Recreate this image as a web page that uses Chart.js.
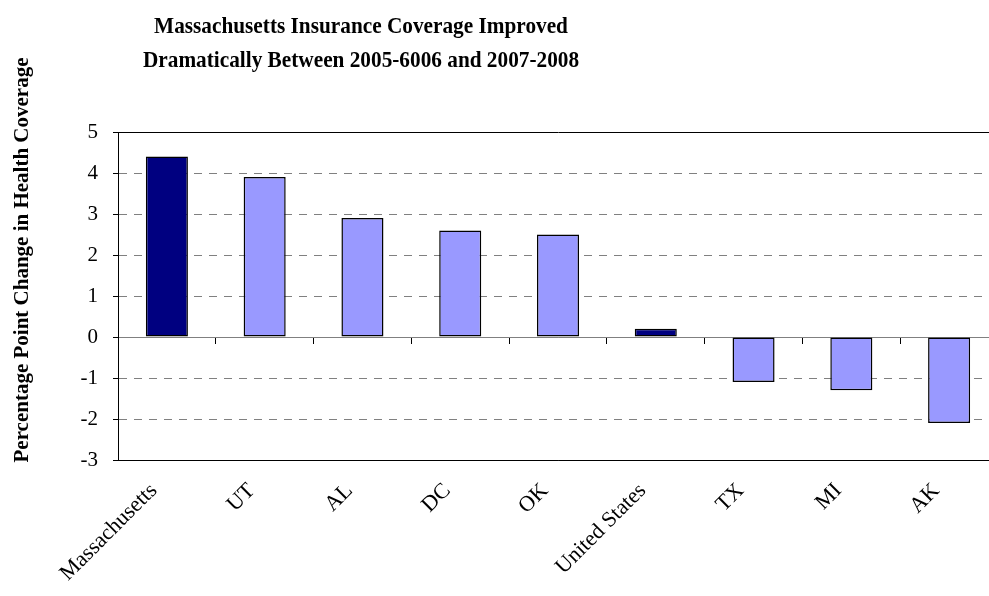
<!DOCTYPE html>
<html>
<head>
<meta charset="utf-8">
<script src="https://cdn.jsdelivr.net/npm/chart.js@4/dist/chart.umd.min.js"></script>
<style>
  html, body { margin: 0; padding: 0; background: #fff; overflow: hidden; }
  #wrap { width: 1000px; height: 596px; }
</style>
</head>
<body>
<div id="wrap"><canvas id="coverage-chart" width="1000" height="596"></canvas></div>
<script>
// Chart data
const states = ['Massachusetts', 'UT', 'AL', 'DC', 'OK', 'United States', 'TX', 'MI', 'AK'];
const pointChange = [4.4, 3.9, 2.9, 2.6, 2.5, 0.2, -1.1, -1.3, -2.1];
const highlighted = ['Massachusetts', 'United States'];
const yMin = -3;
const yMax = 5;

const titleLines = [
  'Massachusetts Insurance Coverage Improved',
  'Dramatically Between 2005-6006 and 2007-2008'
];
const yTitle = 'Percentage Point Change in Health Coverage';

const serif = '"Liberation Serif", "Times New Roman", serif';

// Titles are drawn by hand because they are not centred on the plot
const titlePlugin = {
  id: 'titles',
  afterDraw(chart) {
    const ctx = chart.ctx;
    ctx.save();
    ctx.fillStyle = '#000';
    ctx.textAlign = 'center';
    ctx.textBaseline = 'alphabetic';
    ctx.font = 'bold 23px ' + serif;
    // the original face is narrower, squeeze it a bit
    ctx.translate(361, 0);
    ctx.scale(0.925, 1);
    ctx.fillText(titleLines[0], 0, 33);
    ctx.fillText(titleLines[1], 0, 67);
    ctx.restore();

    ctx.save();
    ctx.fillStyle = '#000';
    ctx.textAlign = 'center';
    ctx.translate(23, 260);
    ctx.rotate(-Math.PI / 2);
    ctx.textBaseline = 'middle';
    ctx.font = 'bold 21px ' + serif;
    ctx.fillText(yTitle, 0, 0);
    ctx.restore();
  }
};

function isEdge(value) {
  return value === yMin || value === yMax || value === 0;
}

const ctx = document.getElementById('coverage-chart').getContext('2d');
new Chart(ctx, {
  type: 'bar',
  data: {
    labels: states,
    datasets: [{
      data: pointChange,
      backgroundColor: states.map(s => highlighted.includes(s) ? '#000080' : '#9999FF'),
      borderColor: '#000',
      borderWidth: 1.5,
      borderSkipped: false,
      barPercentage: 0.43,
      categoryPercentage: 1
    }]
  },
  options: {
    responsive: false,
    animation: false,
    layout: { padding: { top: 132, right: 2, left: 0, bottom: 0 } },
    plugins: {
      legend: { display: false },
      tooltip: { enabled: false }
    },
    scales: {
      x: {
        grid: { display: false },
        border: { display: true, color: '#000', width: 1 },
        ticks: {
          color: '#000',
          font: { family: serif, size: 22 },
          minRotation: 45,
          maxRotation: 45,
          padding: 10,
          labelOffset: -13,
          autoSkip: false
        },
        afterFit(scale) { scale.height = 136; }
      },
      zero: {
        type: 'category',
        axis: 'x',
        position: { y: 0 },
        grid: {
          drawOnChartArea: false,
          drawTicks: true,
          tickLength: 6,
          tickColor: '#000',
          offset: true
        },
        border: { display: true, color: '#808080', width: 1 },
        ticks: { display: false }
      },
      y: {
        min: yMin,
        max: yMax,
        ticks: {
          stepSize: 1,
          color: '#000',
          font: { family: serif, size: 21 },
          padding: 15
        },
        grid: {
          color: c => {
            if (!c.tick) return '#000';
            if (c.tick.value === 0) return '#808080';
            return isEdge(c.tick.value) ? '#000' : '#808080';
          },
          lineWidth: 1,
          tickLength: 5,
          tickColor: '#000'
        },
        border: {
          display: true,
          color: '#000',
          width: 1,
          dash: c => (c.tick && !isEdge(c.tick.value)) ? [8, 7] : []
        },
        afterFit(scale) { scale.width = 118; }
      }
    }
  },
  plugins: [titlePlugin]
});
</script>
</body>
</html>
